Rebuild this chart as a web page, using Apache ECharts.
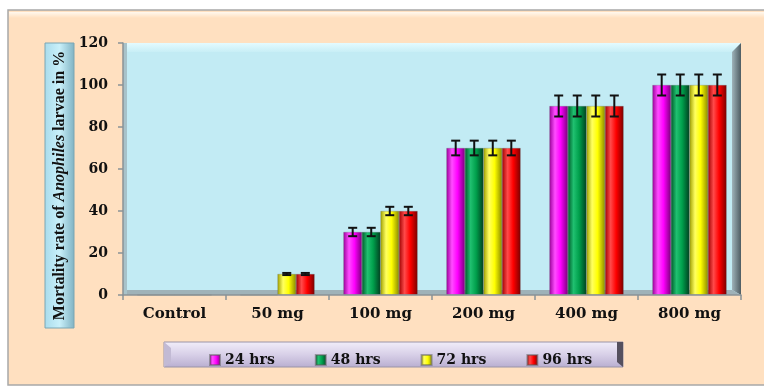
<!DOCTYPE html>
<html><head><meta charset="utf-8">
<script src="https://cdn.jsdelivr.net/npm/echarts@6/dist/echarts.min.js"></script>
<style>html,body{margin:0;padding:0;background:#fff}#c{width:764px;height:388px}</style>
</head><body><div id="c"></div>
<script>
const categories = ['Control', '50 mg', '100 mg', '200 mg', '400 mg', '800 mg'];
const seriesNames = ['24 hrs', '48 hrs', '72 hrs', '96 hrs'];
const v24 = [0, 0, 30, 70, 90, 100];
const v48 = [0, 0, 30, 70, 90, 100];
const v72 = [0, 10, 40, 70, 90, 100];
const v96 = [0, 10, 40, 70, 90, 100];
const e24 = [0, 0, 2, 3.5, 5, 5];
const e48 = [0, 0, 2, 3.5, 5, 5];
const e72 = [0, 0.5, 2, 3.5, 5, 5];
const e96 = [0, 0.5, 2, 3.5, 5, 5];
const yMin = 0, yMax = 120, yStep = 20;

const values = [v24, v48, v72, v96];
const errors = [e24, e48, e72, e96];
const colors = [
  ['#9a009a', '#ff4dff', '#ff00ff', '#7a007a'],
  ['#005a2a', '#20c070', '#00a04c', '#004020'],
  ['#a0a000', '#ffff60', '#ffff00', '#8a8a00'],
  ['#a00000', '#ff4a4a', '#ff0000', '#7a0000']
];
const flat = ['#ff00ff', '#00a04c', '#ffff00', '#ff0000'];
const GAP = 0.28;

function grad(c) {
  return new echarts.graphic.LinearGradient(0, 0, 1, 0, [
    {offset: 0, color: c[0]}, {offset: 0.3, color: c[1]},
    {offset: 0.6, color: c[2]}, {offset: 1, color: c[3]}
  ]);
}
const font = 'DejaVu Serif';
const series = [];
seriesNames.forEach((n, i) => {
  series.push({
    name: n, type: 'bar', data: values[i], barGap: '0%', barCategoryGap: (GAP * 100) + '%',
    itemStyle: {color: grad(colors[i]), borderColor: 'rgba(90,90,90,0.5)', borderWidth: 0.5},
    z: 3
  });
});
seriesNames.forEach((n, i) => {
  series.push({
    type: 'custom', z: 5, silent: true,
    data: values[i].map((v, k) => [k, v, errors[i][k]]),
    renderItem: function (params, api) {
      const k = api.value(0), v = api.value(1), e = api.value(2);
      if (!(e > 0)) return null;
      const band = api.size([1, 0])[0];
      const bw = band * (1 - GAP) / 4;
      const c = api.coord([k, v]);
      const x = c[0] - 2 * bw + (i + 0.5) * bw;
      const top = api.coord([k, v + e])[1];
      const bot = api.coord([k, v - e])[1];
      const cap = 4.5;
      const st = {stroke: '#111', lineWidth: 2};
      return {type: 'group', children: [
        {type: 'line', shape: {x1: x, y1: top, x2: x, y2: bot}, style: st},
        {type: 'line', shape: {x1: x - cap, y1: top, x2: x + cap, y2: top}, style: st},
        {type: 'line', shape: {x1: x - cap, y1: bot, x2: x + cap, y2: bot}, style: st}
      ]};
    }
  });
});

const L = 123, T = 43, R = 741, B = 295;
const chart = echarts.init(document.getElementById('c'), null, {renderer: 'canvas'});
chart.setOption({
  backgroundColor: '#ffffff',
  animation: false,
  color: flat,
  grid: {left: L, top: T, right: 764 - R, bottom: 388 - B, show: false},
  xAxis: {
    type: 'category', data: categories,
    axisLine: {lineStyle: {color: '#8a9296', width: 1.5}},
    axisTick: {show: true, length: 5, lineStyle: {color: '#8a9296', width: 1.5}},
    axisLabel: {color: '#111', fontFamily: font, fontWeight: 'bold', fontSize: 15, margin: 12},
    z: 4
  },
  yAxis: {
    type: 'value', min: yMin, max: yMax, interval: yStep,
    axisLine: {show: true, lineStyle: {color: '#8a9296', width: 1.5}},
    axisTick: {show: true, length: 5, lineStyle: {color: '#8a9296', width: 1.5}},
    splitLine: {show: false},
    axisLabel: {color: '#111', fontFamily: font, fontWeight: 'bold', fontSize: 14, margin: 15},
    z: 4
  },
  legend: {
    data: seriesNames, left: 204, top: 348, itemGap: 40, itemWidth: 10, itemHeight: 10,
    icon: 'rect', textStyle: {color: '#111', fontFamily: font, fontWeight: 'bold', fontSize: 14}
  },
  graphic: [
    {type: 'rect', z: -100, shape: {x: 8, y: 10, width: 770, height: 375},
      style: {fill: '#ffe0c0', stroke: '#a8a8a8', lineWidth: 1.5}},
    {type: 'rect', z: -99, shape: {x: 9, y: 12, width: 770, height: 6},
      style: {fill: new echarts.graphic.LinearGradient(0, 0, 0, 1, [{offset: 0, color: '#fff8ee'}, {offset: 1, color: '#ffe0c0'}])}},
    // plot wall
    {type: 'rect', z: -90, shape: {x: L, y: T, width: R - L, height: B - T},
      style: {fill: '#c2ebf4'}},
    {type: 'polygon', z: -89, shape: {points: [[L, T], [R, T], [R - 9, T + 9], [L + 4, T + 9]]},
      style: {fill: new echarts.graphic.LinearGradient(0, 0, 0, 1, [{offset: 0, color: '#e4fbff'}, {offset: 1, color: '#c8eef6'}])}},
    {type: 'polygon', z: -89, shape: {points: [[R - 9, T + 9], [R, T], [R, B], [R - 9, B - 5]]},
      style: {fill: new echarts.graphic.LinearGradient(0, 0, 1, 0, [{offset: 0, color: '#9fb3ba'}, {offset: 1, color: '#4e5c62'}])}},
    {type: 'polygon', z: -89, shape: {points: [[L, B], [L + 4, B - 5], [R - 9, B - 5], [R, B]]},
      style: {fill: '#9fb2b8'}},
    {type: 'rect', z: -89, shape: {x: L, y: T, width: 4, height: B - T},
      style: {fill: '#a8c2c9'}},
    // y title box
    {type: 'rect', z: -80, shape: {x: 45, y: 43, width: 29, height: 285},
      style: {fill: new echarts.graphic.LinearGradient(0, 0, 1, 0, [{offset: 0, color: '#a9dcec'}, {offset: 0.5, color: '#c9f0fa'}, {offset: 1, color: '#7fb2c2'}]), stroke: '#7aa6b4', lineWidth: 1}},
    {type: 'text', z: -70, x: 60, y: 185.5, rotation: Math.PI / 2,
      style: {text: '{a|Mortality rate of }{b|Anophiles}{a| larvae in %}', align: 'center', verticalAlign: 'middle',
        rich: {
          a: {fontFamily: 'Liberation Serif', fontWeight: 'bold', fontSize: 16, fill: '#111'},
          b: {fontFamily: 'Liberation Serif', fontWeight: 'bold', fontStyle: 'italic', fontSize: 16, fill: '#111'}
        }}},
    // legend box
    {type: 'rect', z: -80, shape: {x: 164, y: 342, width: 459, height: 25},
      style: {fill: new echarts.graphic.LinearGradient(0, 0, 0, 1, [{offset: 0, color: '#f2eefa'}, {offset: 0.5, color: '#d8d0e8'}, {offset: 1, color: '#b8aed0'}]), stroke: '#9a94a8', lineWidth: 1}},
    {type: 'polygon', z: -79, shape: {points: [[164, 342], [171, 348], [171, 362], [164, 367]]},
      style: {fill: '#c2bad4'}},
    {type: 'polygon', z: -79, shape: {points: [[617, 342], [623, 342], [623, 367], [617, 362]]},
      style: {fill: '#55505e'}}
  ],
  series: series
});
</script></body></html>
